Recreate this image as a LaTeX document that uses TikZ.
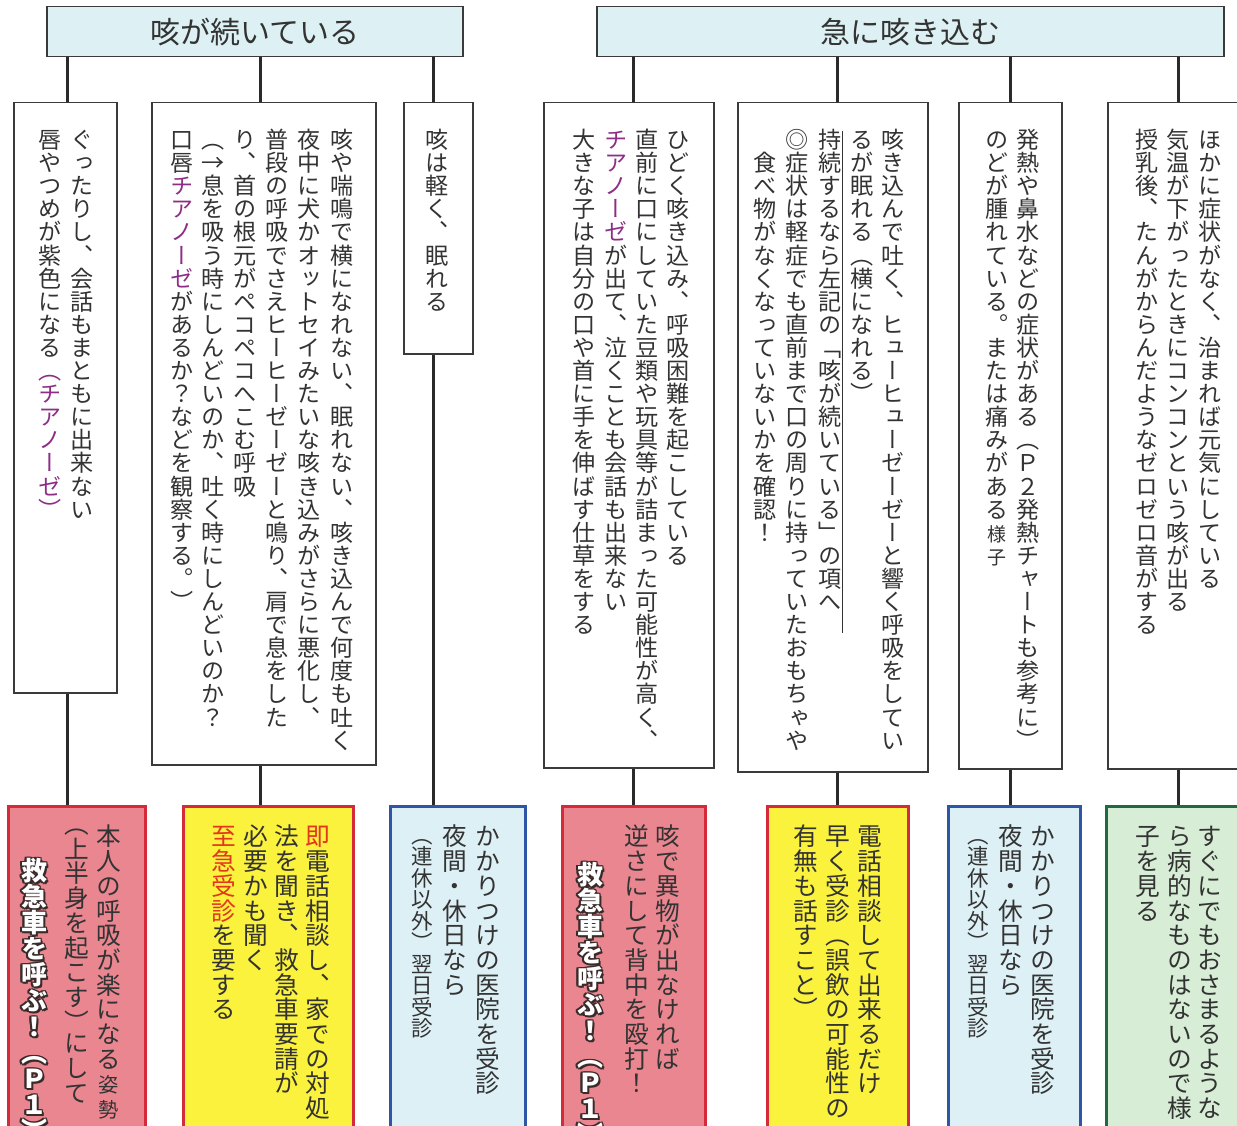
\documentclass[tikz,border=0pt]{standalone}
\usepackage{fontspec}
\setmainfont{Noto Sans CJK JP}
\newfontfamily\vjp[RawFeature=+vert]{Noto Sans CJK JP}
\definecolor{hdrfill}{HTML}{DDF1F4}
\definecolor{boxline}{HTML}{3A3A3A}
\definecolor{linecol}{HTML}{2A2A2A}
\definecolor{txt}{HTML}{333333}
\definecolor{pinkfill}{HTML}{E98690}
\definecolor{redline}{HTML}{D42A3A}
\definecolor{yelfill}{HTML}{FAF23C}
\definecolor{bluefill}{HTML}{DDF0F5}
\definecolor{blueline}{HTML}{2D56A6}
\definecolor{grnfill}{HTML}{D7EDD6}
\definecolor{grnline}{HTML}{1F6A40}
\definecolor{ppl}{HTML}{8E2C86}
\definecolor{rtx}{HTML}{E2361E}
\definecolor{outl}{HTML}{3A2A2A}
\makeatletter
\newdimen\vpitchd \newdimen\vhd \newdimen\vdd \newdimen\vlowd
\def\vst@end{\vst@end}
\newcommand\vstack[3]{%
  \vbox{\offinterlineskip\vpitchd=#1\relax
    \def\vcurcol{#2}\def\vbasecol{#2}\def\vcurfont{}%
    \vst@reset
    \vst@loop#3\vst@end}}
\def\vst@reset{\vhd=0.88\vpitchd \vdd=0.12\vpitchd \vlowd=0pt\relax}
\def\vst@loop#1{\ifx#1\vst@end\else\vst@one{#1}\expandafter\vst@loop\fi}
\def\vst@one#1{\ifcat\noexpand#1\relax #1\else
  \hbox to\vpitchd{\hss\vrule height\vhd depth\vdd width0pt{\vcurfont\color{\vcurcol}\lower\vlowd\hbox{#1}}\hss}\vst@reset\fi}
\newcommand\VP{\def\vcurcol{ppl}}
\newcommand\VR{\def\vcurcol{rtx}}
\newcommand\VN{\def\vcurcol{\vbasecol}}
\newcommand\VS{\def\vcurfont{\fontsize{\the\dimexpr\vpitchd*82/100\relax}{\vpitchd}\selectfont}}
\newcommand\VB{\def\vcurfont{}}
\newcommand\VHO{\vhd=0.38\vpitchd\relax}
\newcommand\VHC{\vhd=0.38\vpitchd \vlowd=0.5\vpitchd\relax}
\makeatother
\newcommand\olay[2]{\rlap{\kern#1pt\raise#2pt\hbox{\vstack{26pt}{outl}{救急車を呼ぶ！（Ｐ１）}}}}
\tikzset{
  conn/.style={line width=3pt, draw=linecol},
  hdrbox/.style={draw=boxline, line width=1.5pt, fill=hdrfill, anchor=north west, inner sep=0pt, text=txt, font=\fontsize{30}{30}\selectfont},
  txtbox/.style={draw=boxline, line width=1.5pt, fill=white, anchor=north west, inner sep=0pt, minimum height=#1},
  colbox/.style={line width=3pt, anchor=north west, inner sep=0pt, minimum height=340},
  pinkbox/.style={colbox, draw=redline, fill=pinkfill},
  yelbox/.style={colbox, draw=redline, fill=yelfill},
  bluebox/.style={colbox, draw=blueline, fill=bluefill},
  grnbox/.style={colbox, draw=grnline, fill=grnfill},
  vcolnode/.style={anchor=north, inner sep=0pt},
  callnode/.style={anchor=north, inner sep=0pt, font=\vjp\bfseries\fontsize{26}{26}\selectfont},
  sideline/.style={line width=1pt, draw=txt}
}
\newcommand{\vcol}[4][23.1]{\node[vcolnode, font=\vjp\fontsize{#1}{#1}\selectfont] (#2) at (#3) {\vstack{#1pt}{txt}{#4}};}
\newcommand{\callamb}[2]{%
  \node[callnode] (#1) at (#2) {\olay{-1.6}{0}\olay{1.6}{0}\olay{0}{1.6}\olay{0}{-1.6}\olay{-1.2}{1.2}\olay{1.2}{-1.2}\olay{-1.2}{-1.2}\olay{1.2}{1.2}\olay{2.3}{-2.3}\vstack{26pt}{white}{救急車を呼ぶ！（Ｐ１）}};
}
\begin{document}
\begin{tikzpicture}[x=1pt,y=-1pt]
\useasboundingbox (0,0) rectangle (1237,1126);
\fill[white] (0,0) rectangle (1237,1126);

% headers
\node[hdrbox, minimum width=416, minimum height=50] (h1) at (46,6) {咳が続いている};
\node[hdrbox, minimum width=627, minimum height=50] (h2) at (596,6) {急に咳き込む};

% drop x positions
\coordinate (d1) at (67,0);
\coordinate (d2) at (260,0);
\coordinate (d3) at (433,0);
\coordinate (d4) at (633,0);
\coordinate (d5) at (837,0);
\coordinate (d6) at (1010,0);
\coordinate (d7) at (1178,0);

% text boxes
\node[txtbox=590, minimum width=103] (t1) at (13,102) {};
\node[txtbox=662, minimum width=224] (t2) at (151,102) {};
\node[txtbox=251, minimum width=69] (t3) at (403,102) {};
\node[txtbox=665, minimum width=170] (t4) at (543,102) {};
\node[txtbox=669, minimum width=190] (t5) at (737,102) {};
\node[txtbox=666, minimum width=103] (t6) at (958,102) {};
\node[txtbox=666, minimum width=140] (t7) at (1107,102) {};

% bottom boxes
\node[pinkbox, minimum width=137] (b1) at (7,805) {};
\node[yelbox, minimum width=170] (b2) at (182,805) {};
\node[bluebox, minimum width=135] (b3) at (389,805) {};
\node[pinkbox, minimum width=143] (b4) at (561,805) {};
\node[yelbox, minimum width=141] (b5) at (766,805) {};
\node[bluebox, minimum width=132] (b6) at (947,805) {};
\node[grnbox, minimum width=140] (b7) at (1105,805) {};

% connectors
\draw[conn] (h1.south -| d1) -- (t1.north -| d1);
\draw[conn] (h1.south -| d2) -- (t2.north -| d2);
\draw[conn] (h1.south -| d3) -- (t3.north -| d3);
\draw[conn] (h2.south -| d4) -- (t4.north -| d4);
\draw[conn] (h2.south -| d5) -- (t5.north -| d5);
\draw[conn] (h2.south -| d6) -- (t6.north -| d6);
\draw[conn] (h2.south -| d7) -- (t7.north -| d7);
\draw[conn] (t1.south -| d1) -- (b1.north -| d1);
\draw[conn] (t2.south -| d2) -- (b2.north -| d2);
\draw[conn] (t3.south -| d3) -- (b3.north -| d3);
\draw[conn] (t4.south -| d4) -- (b4.north -| d4);
\draw[conn] (t5.south -| d5) -- (b5.north -| d5);
\draw[conn] (t6.south -| d6) -- (b6.north -| d6);
\draw[conn] (t7.south -| d7) -- (b7.north -| d7);

% box 1
\vcol{t1a}{82,128}{ぐったりし、会話もまともに出来ない}
\vcol{t1b}{50,128}{唇やつめが紫色になる\VP（チアノーゼ）}
% box 2
\vcol{t2a}{342,128}{咳や喘鳴で横になれない、眠れない、咳き込んで何度も吐く}
\vcol{t2b}{309,128}{夜中に犬かオットセイみたいな咳き込みがさらに悪化し、}
\vcol{t2c}{277,128}{普段の呼吸でさえヒーヒーゼーゼーと鳴り、肩で息をした}
\vcol{t2d}{245,128}{り、首の根元がペコペコへこむ呼吸}
\vcol{t2e}{213,128}{（→息を吸う時にしんどいのか、吐く時にしんどいのか？}
\vcol{t2f}{182,128}{口唇\VP チアノーゼ\VN があるか？などを観察する。）}
% box 3
\vcol{t3a}{437,128}{咳は軽く、眠れる}
% box 4
\vcol{t4a}{678,128}{ひどく咳き込み、呼吸困難を起こしている}
\vcol{t4b}{647,128}{直前に口にしていた豆類や玩具等が詰まった可能性が高く、}
\vcol{t4c}{616,128}{\VP チアノーゼ\VN が出て、泣くことも会話も出来ない}
\vcol{t4d}{584,128}{大きな子は自分の口や首に手を伸ばす仕草をする}
% box 5
\vcol{t5a}{893,128}{咳き込んで吐く、ヒューヒューゼーゼーと響く呼吸をしてい}
\vcol{t5b}{862,128}{るが眠れる（横になれる）}
\vcol{t5c}{830,128}{持続するなら左記の「咳が続いている」の項へ}
\vcol{t5d}{797,128}{◎症状は軽症でも直前まで口の周りに持っていたおもちゃや}
\vcol{t5e}{765,128}{　食べ物がなくなっていないかを確認！}
\coordinate (slend) at ([yshift=-19pt]t5c.south);
\draw[sideline] ([yshift=-3pt]t5c.north -| 842,0) -- (slend -| 842,0);
% box 6
\vcol{t6a}{1028,128}{発熱や鼻水などの症状がある（Ｐ２発熱チャートも参考に）}
\vcol{t6b}{997,128}{のどが腫れている。または痛みがある\VS 様子}
% box 7
\vcol{t7a}{1210,128}{ほかに症状がなく、治まれば元気にしている}
\vcol{t7b}{1178,128}{気温が下がったときにコンコンという咳が出る}
\vcol{t7c}{1147,128}{授乳後、たんがからんだようなゼロゼロ音がする}

% bottom texts
\vcol[24.7]{b1a}{109,824}{本人の呼吸が楽になる\VS 姿勢}
\vcol[24.7]{b1b}{77,824}{\VHO（上半身を起こす\VHC）にして}
\callamb{b1c}{34,856}
\vcol[24.7]{b2a}{318,824}{\VR 即\VN 電話相談し、家での対処}
\vcol[24.7]{b2b}{287,824}{法を聞き、救急車要請が}
\vcol[24.7]{b2c}{256,824}{必要かも聞く}
\vcol[24.7]{b2d}{224,824}{\VR 至急受診\VN を要する}
\vcol[24.7]{b3a}{488,824}{かかりつけの医院を受診}
\vcol[24.7]{b3b}{455,824}{夜間・休日なら}
\vcol[21.5]{b3c}{422,824}{（連休以外）翌日受診}
\vcol[24.7]{b4a}{668,824}{咳で異物が出なければ}
\vcol[24.7]{b4b}{637,824}{逆さにして背中を殴打！}
\callamb{b4c}{590,860}
\vcol[24.7]{b5a}{870,824}{電話相談して出来るだけ}
\vcol[24.7]{b5b}{838,824}{早く受診（誤飲の可能性の}
\vcol[24.7]{b5c}{806,824}{有無も話すこと）}
\vcol[24.7]{b6a}{1043,824}{かかりつけの医院を受診}
\vcol[24.7]{b6b}{1011,824}{夜間・休日なら}
\vcol[21.5]{b6c}{978,824}{（連休以外）翌日受診}
\vcol[24.7]{b7a}{1210,824}{すぐにでもおさまるような}
\vcol[24.7]{b7b}{1180,824}{ら病的なものはないので様}
\vcol[24.7]{b7c}{1148,824}{子を見る}
\end{tikzpicture}
\end{document}
